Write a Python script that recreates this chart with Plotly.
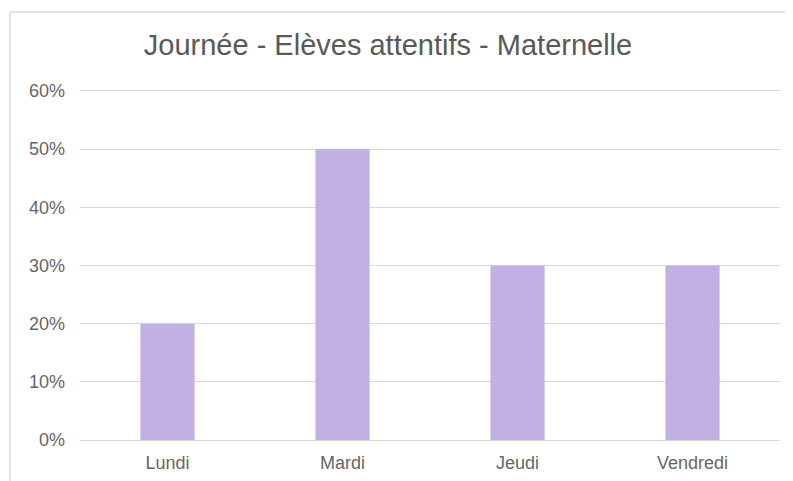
import plotly.graph_objects as go

# data
jours = ["Lundi", "Mardi", "Jeudi", "Vendredi"]
attentifs = [0.20, 0.50, 0.30, 0.30]
y_ticks = [0, 0.1, 0.2, 0.3, 0.4, 0.5, 0.6]

fig = go.Figure()

fig.add_trace(go.Bar(
    x=jours,
    y=attentifs,
    marker=dict(color="#C3B0E2", line=dict(width=0)),
    hoverinfo="x+y",
))

# the page body has an 8px margin, so the figure is 8px smaller than the window
W, H = 785, 473
L, R, T, B = 72, 13, 80, 41
pw, ph = W - L - R, H - T - B

# light frame around the chart (only top and left edges fall inside the window)
fig.add_shape(
    type="rect", xref="paper", yref="paper",
    x0=(2 - L) / pw, x1=(800 - L) / pw,
    y0=((H - B) - 490) / ph, y1=((H - B) - 4) / ph,
    line=dict(color="#D9D9D9", width=1.5),
    fillcolor="rgba(0,0,0,0)",
    layer="below",
)

fig.update_layout(
    width=W, height=H,
    margin=dict(l=L, r=R, t=T, b=B),
    paper_bgcolor="white",
    plot_bgcolor="white",
    font=dict(family="Liberation Sans, Arial, sans-serif", color="#666666", size=18),
    title=dict(
        text="Journée - Elèves attentifs - Maternelle",
        x=380 / W, xanchor="center",
        y=1 - 37 / H, yanchor="middle",
        font=dict(size=29, color="#595959"),
    ),
    bargap=0.69,
    showlegend=False,
    xaxis=dict(
        showgrid=False, showline=False, ticks="",
        tickfont=dict(size=18, color="#666666"),
        ticklabelstandoff=10,
        automargin=False,
    ),
    yaxis=dict(
        range=[0, 0.605],
        tickvals=y_ticks,
        tickformat=".0%",
        showgrid=True, gridcolor="#D9D9D9", gridwidth=1,
        zeroline=True, zerolinecolor="#D9D9D9", zerolinewidth=1,
        showline=False, ticks="",
        tickfont=dict(size=18, color="#666666"),
        ticklabelstandoff=14,
        automargin=False,
    ),
)

fig.write_html("out.html")
